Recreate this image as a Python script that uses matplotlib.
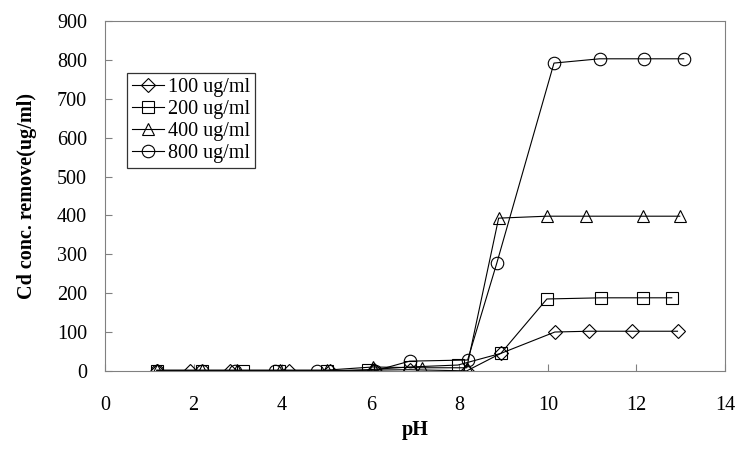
import numpy as np
import matplotlib.pyplot as plt

plt.rcParams['font.family'] = ['Liberation Serif', 'DejaVu Serif']

# pH values and removed Cd concentration for each initial concentration
ph_100 = [1.17, 1.92, 2.82, 4.15, 5.08, 6.07, 6.88, 8.17, 8.94, 10.16, 10.93, 11.90, 12.93]
cd_100 = [0, 0, 0, 0, 0, 2, 3, 0, 45, 100, 102, 102, 102]

ph_200 = [1.17, 2.19, 3.12, 3.93, 5.01, 5.94, 6.88, 7.97, 8.94, 9.98, 11.20, 12.14, 12.80]
cd_200 = [0, 0, 0, 0, 0, 3, 10, 15, 45, 185, 188, 188, 188]

ph_400 = [1.17, 2.19, 2.98, 3.95, 5.01, 6.05, 7.16, 8.17, 8.89, 9.98, 10.86, 12.14, 12.98]
cd_400 = [2, 2, 2, 2, 2, 10, 8, 8, 393, 398, 398, 398, 398]

ph_800 = [1.17, 2.19, 2.93, 3.84, 4.79, 6.09, 6.88, 8.19, 8.85, 10.14, 11.17, 12.17, 13.07]
cd_800 = [0, 0, 0, 0, 0, 0, 25, 28, 278, 792, 803, 803, 803]

series = [
    (ph_100, cd_100, 'D', 7.5, '100 ug/ml'),
    (ph_200, cd_200, 's', 8.5, '200 ug/ml'),
    (ph_400, cd_400, '^', 9, '400 ug/ml'),
    (ph_800, cd_800, 'o', 9, '800 ug/ml'),
]

fig = plt.figure(figsize=(7.45, 4.49), dpi=100)
ax = fig.add_axes([0.141, 0.174, 0.832, 0.779])

for x, y, m, ms, lab in series:
    ax.plot(x, y, color='black', linewidth=0.8, marker=m, markersize=ms,
            markerfacecolor='none', markeredgecolor='black', markeredgewidth=0.8,
            label=lab)

ax.set_xlim(0, 14)
ax.set_ylim(0, 900)
ax.set_xticks(np.arange(0, 15, 2))
ax.set_yticks(np.arange(0, 901, 100))
ax.tick_params(direction='in', length=5, color='#808080', labelsize=14.5)
ax.tick_params(axis='x', pad=18)
ax.tick_params(axis='y', pad=13)
for s in ax.spines.values():
    s.set_color('#808080')

ax.set_xlabel('pH', fontsize=14.5, fontweight='bold', labelpad=4)
ax.set_ylabel('Cd conc. remove(ug/ml)', fontsize=14.5, fontweight='bold', labelpad=14)

leg = ax.legend(loc='upper left', bbox_to_anchor=(0.035, 0.853), fontsize=14.5,
                frameon=True, fancybox=False, edgecolor='black', borderpad=0.25,
                handlelength=1.6, handletextpad=0.2, labelspacing=0.15,
                borderaxespad=0)
leg.get_frame().set_linewidth(0.9)

fig.savefig('out.png', dpi=100)
